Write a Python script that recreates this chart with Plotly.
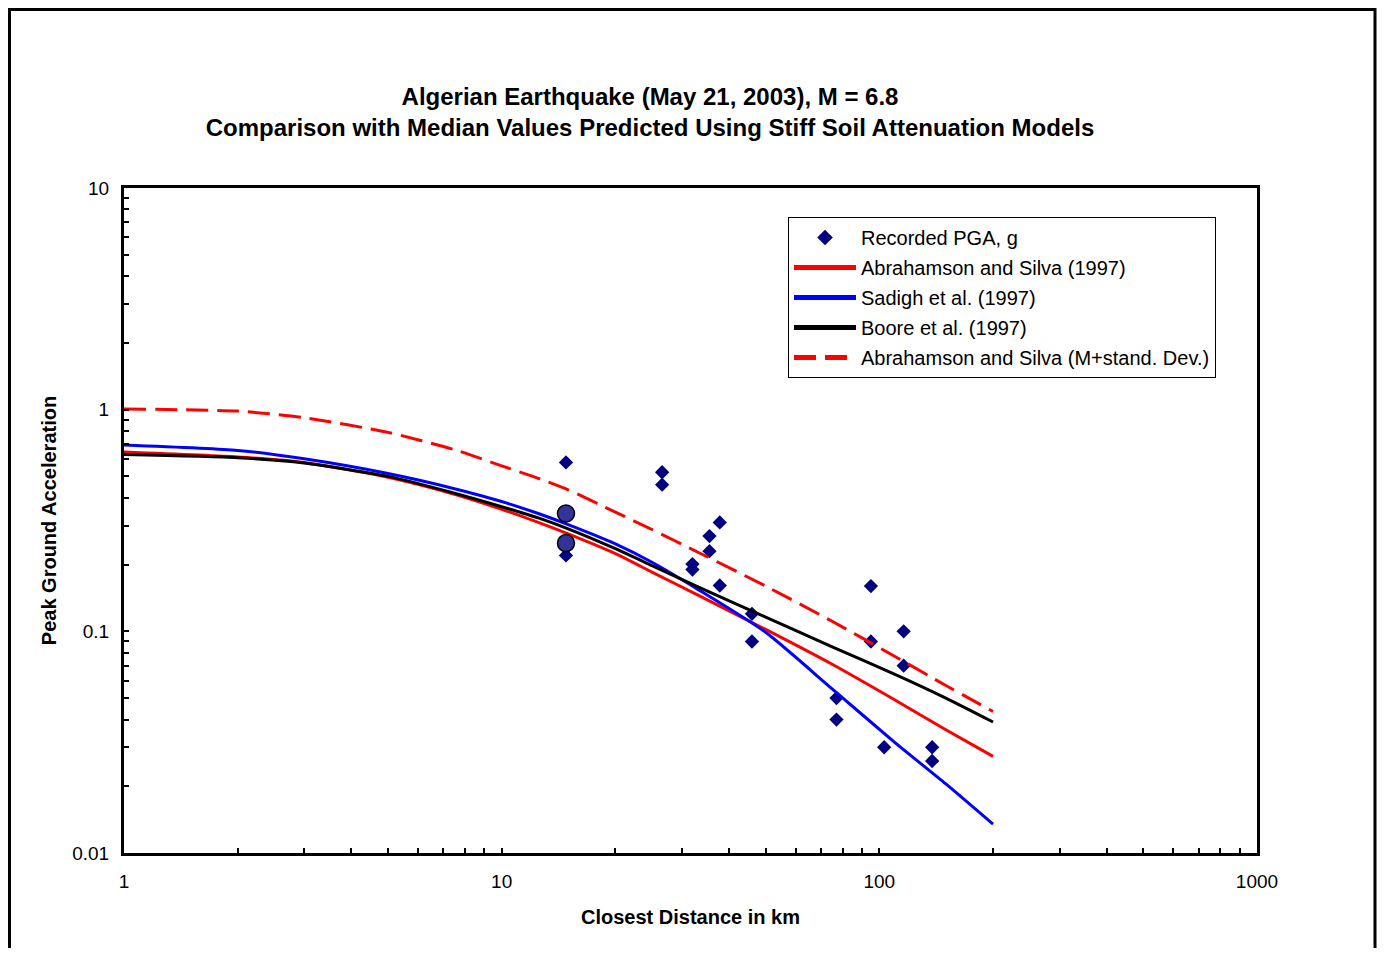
import numpy as np
import plotly.graph_objects as go

# ---------------- data ----------------
rec_dist = [14.8, 14.8, 26.6, 26.6, 37.8, 35.5, 35.5, 32.0, 32.0, 37.8, 46, 46,
            95, 95, 116, 116, 77, 77, 103, 138, 138]
rec_pga = [0.578, 0.22, 0.522, 0.459, 0.31, 0.269, 0.23, 0.201, 0.19, 0.161, 0.12, 0.09,
           0.16, 0.09, 0.10, 0.07, 0.05, 0.04, 0.03, 0.03, 0.026]

big_dist = [14.8, 14.8]
big_pga = [0.34, 0.25]

curve_dist = [1, 2, 3, 5, 7.5, 10, 12.5, 15, 20, 25, 33, 50, 75, 110, 150, 200]
as97 = [0.644, 0.612, 0.578, 0.495, 0.415, 0.355, 0.31, 0.275, 0.224, 0.185, 0.146, 0.102,
        0.071, 0.049, 0.036, 0.0273]
sadigh97 = [0.693, 0.655, 0.60, 0.515, 0.44, 0.385, 0.34, 0.303, 0.248, 0.205, 0.155, 0.099,
            0.055, 0.0315, 0.0205, 0.0135]
boore97 = [0.627, 0.607, 0.575, 0.50, 0.42, 0.365, 0.325, 0.29, 0.236, 0.198, 0.159, 0.116,
           0.085, 0.064, 0.05, 0.039]
as97_sd = [1.007, 0.985, 0.92, 0.79, 0.66, 0.558, 0.49, 0.435, 0.345, 0.288, 0.228, 0.16,
           0.111, 0.077, 0.057, 0.0435]

x_major = [1, 10, 100, 1000]
y_major = [0.01, 0.1, 1, 10]
grid_y = [0.1, 1]

# ---------------- figure ----------------
FONT = "Liberation Sans, Arial, sans-serif"
OFF = 8                   # page body margin
W, H = 1385 - 2 * OFF, 956 - 2 * OFF
L, T = 124 - OFF, 188 - OFF
PW, PH = 1133, 665
R = W - L - PW
B = H - T - PH

SPL = dict(shape="spline", smoothing=0.6)

fig = go.Figure()

fig.add_trace(go.Scatter(x=rec_dist, y=rec_pga, mode="markers", name="Recorded PGA, g",
                         marker=dict(symbol="diamond", size=11, color="#000080"),
                         legendgroup="a"))
fig.add_trace(go.Scatter(x=curve_dist, y=as97, mode="lines", name="Abrahamson and Silva (1997)",
                         line=dict(color="#FF0000", width=3, **SPL), legendgroup="b"))
fig.add_trace(go.Scatter(x=curve_dist, y=sadigh97, mode="lines", name="Sadigh et al. (1997)",
                         line=dict(color="#0000FF", width=3, **SPL), legendgroup="c"))
fig.add_trace(go.Scatter(x=curve_dist, y=boore97, mode="lines", name="Boore et al. (1997)",
                         line=dict(color="#000000", width=3, **SPL), legendgroup="d"))
fig.add_trace(go.Scatter(x=curve_dist, y=as97_sd, mode="lines",
                         name="Abrahamson and Silva (M+stand. Dev.)",
                         line=dict(color="#FF0000", width=3, dash="22px,9px", **SPL),
                         legendgroup="e"))
fig.add_trace(go.Scatter(x=big_dist, y=big_pga, mode="markers", showlegend=False,
                         marker=dict(symbol="circle", size=17, color="#333399",
                                     line=dict(color="black", width=1.5))))


def log_ticks(lo, hi):
    vals = []
    for d in range(lo, hi):
        for m in range(1, 10):
            vals.append(m * 10.0 ** d)
    vals.append(10.0 ** hi)
    return vals


def fmt(v):
    return "%g" % v


xt = log_ticks(0, 3)
xtext = [fmt(v) if any(abs(v - m) < 1e-9 for m in x_major) else "" for v in xt]
yt = log_ticks(-2, 1)
ytext = [fmt(v) if any(abs(v - m) < 1e-12 for m in y_major) else "" for v in yt]

fig.update_layout(
    width=W, height=H,
    paper_bgcolor="white", plot_bgcolor="white",
    margin=dict(l=L, r=R, t=T, b=B),
    font=dict(family=FONT, size=19, color="black"),
    title=dict(text="<b>Algerian Earthquake (May 21, 2003), M = 6.8<br>"
                    "Comparison with Median Values Predicted Using Stiff Soil Attenuation Models</b>",
               x=(650 - OFF) / W, xanchor="center", xref="container",
               y=1 - (112.5 - 2 * OFF) / H, yanchor="middle",
               font=dict(family=FONT, size=24, color="black")),
    xaxis=dict(type="log", range=[0, 3], tickvals=xt, ticktext=xtext,
               ticks="inside", ticklen=5, tickwidth=2, tickcolor="black",
               showline=True, linewidth=3, linecolor="black", mirror=True,
               showgrid=False, zeroline=False, ticklabelstandoff=9,
               tickfont=dict(family=FONT, size=19),
               title=dict(text="<b>Closest Distance in km</b>", standoff=20,
                          font=dict(family=FONT, size=20))),
    yaxis=dict(type="log", range=[-2, 1], tickvals=yt, ticktext=ytext,
               ticks="inside", ticklen=5, tickwidth=2, tickcolor="black",
               showline=True, linewidth=3, linecolor="black", mirror=True,
               showgrid=False, zeroline=False, ticklabelstandoff=8,
               tickfont=dict(family=FONT, size=19),
               title=dict(text="<b>Peak Ground Acceleration</b>", standoff=11,
                          font=dict(family=FONT, size=20))),
    legend=dict(x=(788 - 124) / PW, y=(853 - 217) / PH, xanchor="left", yanchor="top",
                bgcolor="white", bordercolor="black", borderwidth=1,
                font=dict(family=FONT, size=20), itemwidth=62, tracegroupgap=1,
                itemsizing="constant"),
    showlegend=True,
)

shapes = []
for g in grid_y:
    shapes.append(dict(type="line", xref="paper", yref="y", x0=0, x1=1,
                       y0=np.log10(g), y1=np.log10(g), layer="below",
                       line=dict(color="#808080", width=1)))
# outer frame of the chart
shapes.append(dict(type="rect", xref="paper", yref="paper",
                   x0=(9.5 - 124) / PW, x1=(1375 - 124) / PW,
                   y0=(853 - 975) / PH, y1=(853 - 9.5) / PH,
                   line=dict(color="black", width=3), fillcolor="rgba(0,0,0,0)"))
fig.update_layout(shapes=shapes)

fig.write_html("out.html")
